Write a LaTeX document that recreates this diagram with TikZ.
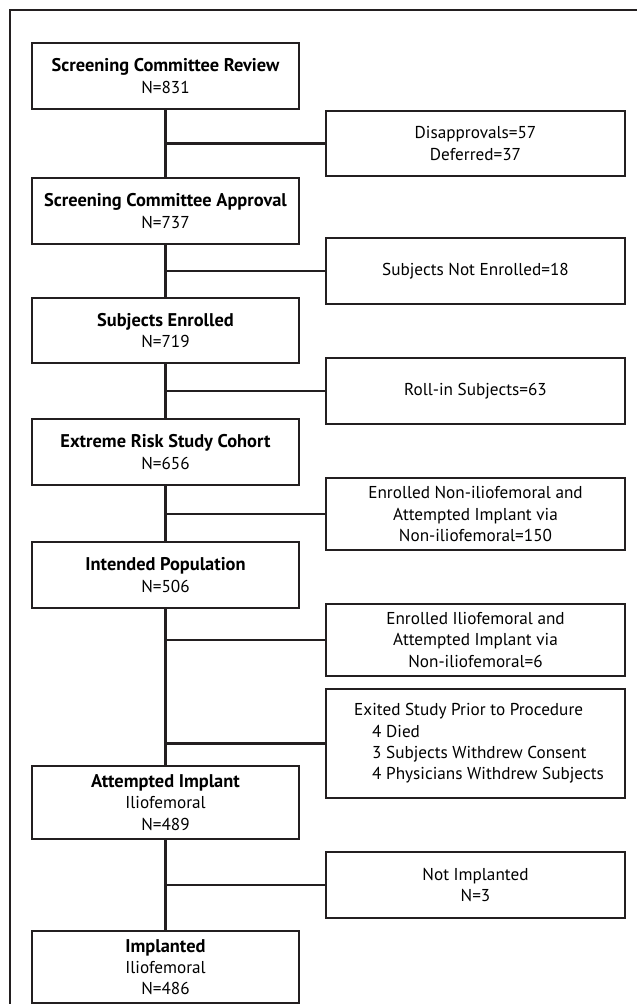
\documentclass[tikz,border=0pt]{standalone}
\usepackage{fontspec}
\setmainfont{PT Sans}
\definecolor{ln}{HTML}{231F20}
\newcommand{\bt}[1]{{\fontsize{18.4}{21.3}\selectfont\bfseries #1}}
\tikzset{
  mainbox/.style={draw=ln, line width=2.4pt, minimum width=267pt, align=center, inner sep=0pt,
    font=\fontsize{17.2}{21.3}\selectfont, text=black},
  sidebox/.style={draw=ln, line width=2.4pt, minimum width=299pt, align=center, inner sep=0pt,
    font=\fontsize{17.2}{21.7}\selectfont, text=black},
  conn/.style={draw=ln, line width=2.4pt}
}
\begin{document}
\begin{tikzpicture}[x=1pt,y=-1pt]
\useasboundingbox (0,0) rectangle (637,1004);
\clip (0,0) rectangle (637,1004);
\draw[ln, line width=2.2pt] (10,1020) -- (10,10) -- (660,10);

\node[mainbox, minimum height=66pt] (m1) at (165.5,76) {\bt{Screening Committee Review}\\N=831};
\node[mainbox, minimum height=66pt] (m2) at (165.5,211) {\bt{Screening Committee Approval}\\N=737};
\node[mainbox, minimum height=65pt] (m3) at (165.5,330.5) {\bt{Subjects Enrolled}\\N=719};
\node[mainbox, minimum height=66pt] (m4) at (165.5,452) {\bt{Extreme Risk Study Cohort}\\N=656};
\node[mainbox, minimum height=66pt] (m5) at (165.5,575) {\bt{Intended Population}\\N=506};
\node[mainbox, minimum height=73pt] (m6) at (165.5,802.5) {\bt{Attempted Implant}\\Iliofemoral\\N=489};
\node[mainbox, minimum height=72pt] (m7) at (165.5,967) {\bt{Implanted}\\Iliofemoral\\N=486};

\node[sidebox, minimum height=65pt] (rA) at (475.5,143.5) {Disapprovals=57\\Deferred=37};
\node[sidebox, minimum height=66pt] (rB) at (475.5,271) {Subjects Not Enrolled=18};
\node[sidebox, minimum height=66pt] (rC) at (475.5,391) {Roll-in Subjects=63};
\node[sidebox, minimum height=72pt] (rD) at (475.5,514) {Enrolled Non-iliofemoral and\\Attempted Implant via\\Non-iliofemoral=150};
\node[sidebox, minimum height=72pt] (rE) at (475.5,640) {Enrolled Iliofemoral and\\Attempted Implant via\\Non-iliofemoral=6};
\node[sidebox, minimum height=109pt] (rF) at (475.5,743.5) {};
\node[anchor=west, align=left, inner sep=0pt, text=black, font=\fontsize{17.2}{21.3}\selectfont] (fT) at (354,743.5)
  {Exited Study Prior to Procedure\\
   \hspace*{18pt}4 Died\\
   \hspace*{18pt}3 Subjects Withdrew Consent\\
   \hspace*{18pt}4 Physicians Withdrew Subjects};
\node[sidebox, minimum height=66pt] (rG) at (475.5,885) {Not Implanted\\N=3};

\draw[conn] (m1.south) -- (m2.north);
\draw[conn] (m2.south) -- (m3.north);
\draw[conn] (m3.south) -- (m4.north);
\draw[conn] (m4.south) -- (m5.north);
\draw[conn] (m5.south) -- (m6.north);
\draw[conn] (m6.south) -- (m7.north);

\draw[conn] (m1.south |- rA.west) -- (rA.west);
\draw[conn] (m2.south |- rB.west) -- (rB.west);
\draw[conn] (m3.south |- rC.west) -- (rC.west);
\draw[conn] (m4.south |- rD.west) -- (rD.west);
\draw[conn] (m5.south |- rE.west) -- (rE.west);
\draw[conn] (m5.south |- rF.west) -- (rF.west);
\draw[conn] (m6.south |- rG.west) -- (rG.west);
\end{tikzpicture}
\end{document}
